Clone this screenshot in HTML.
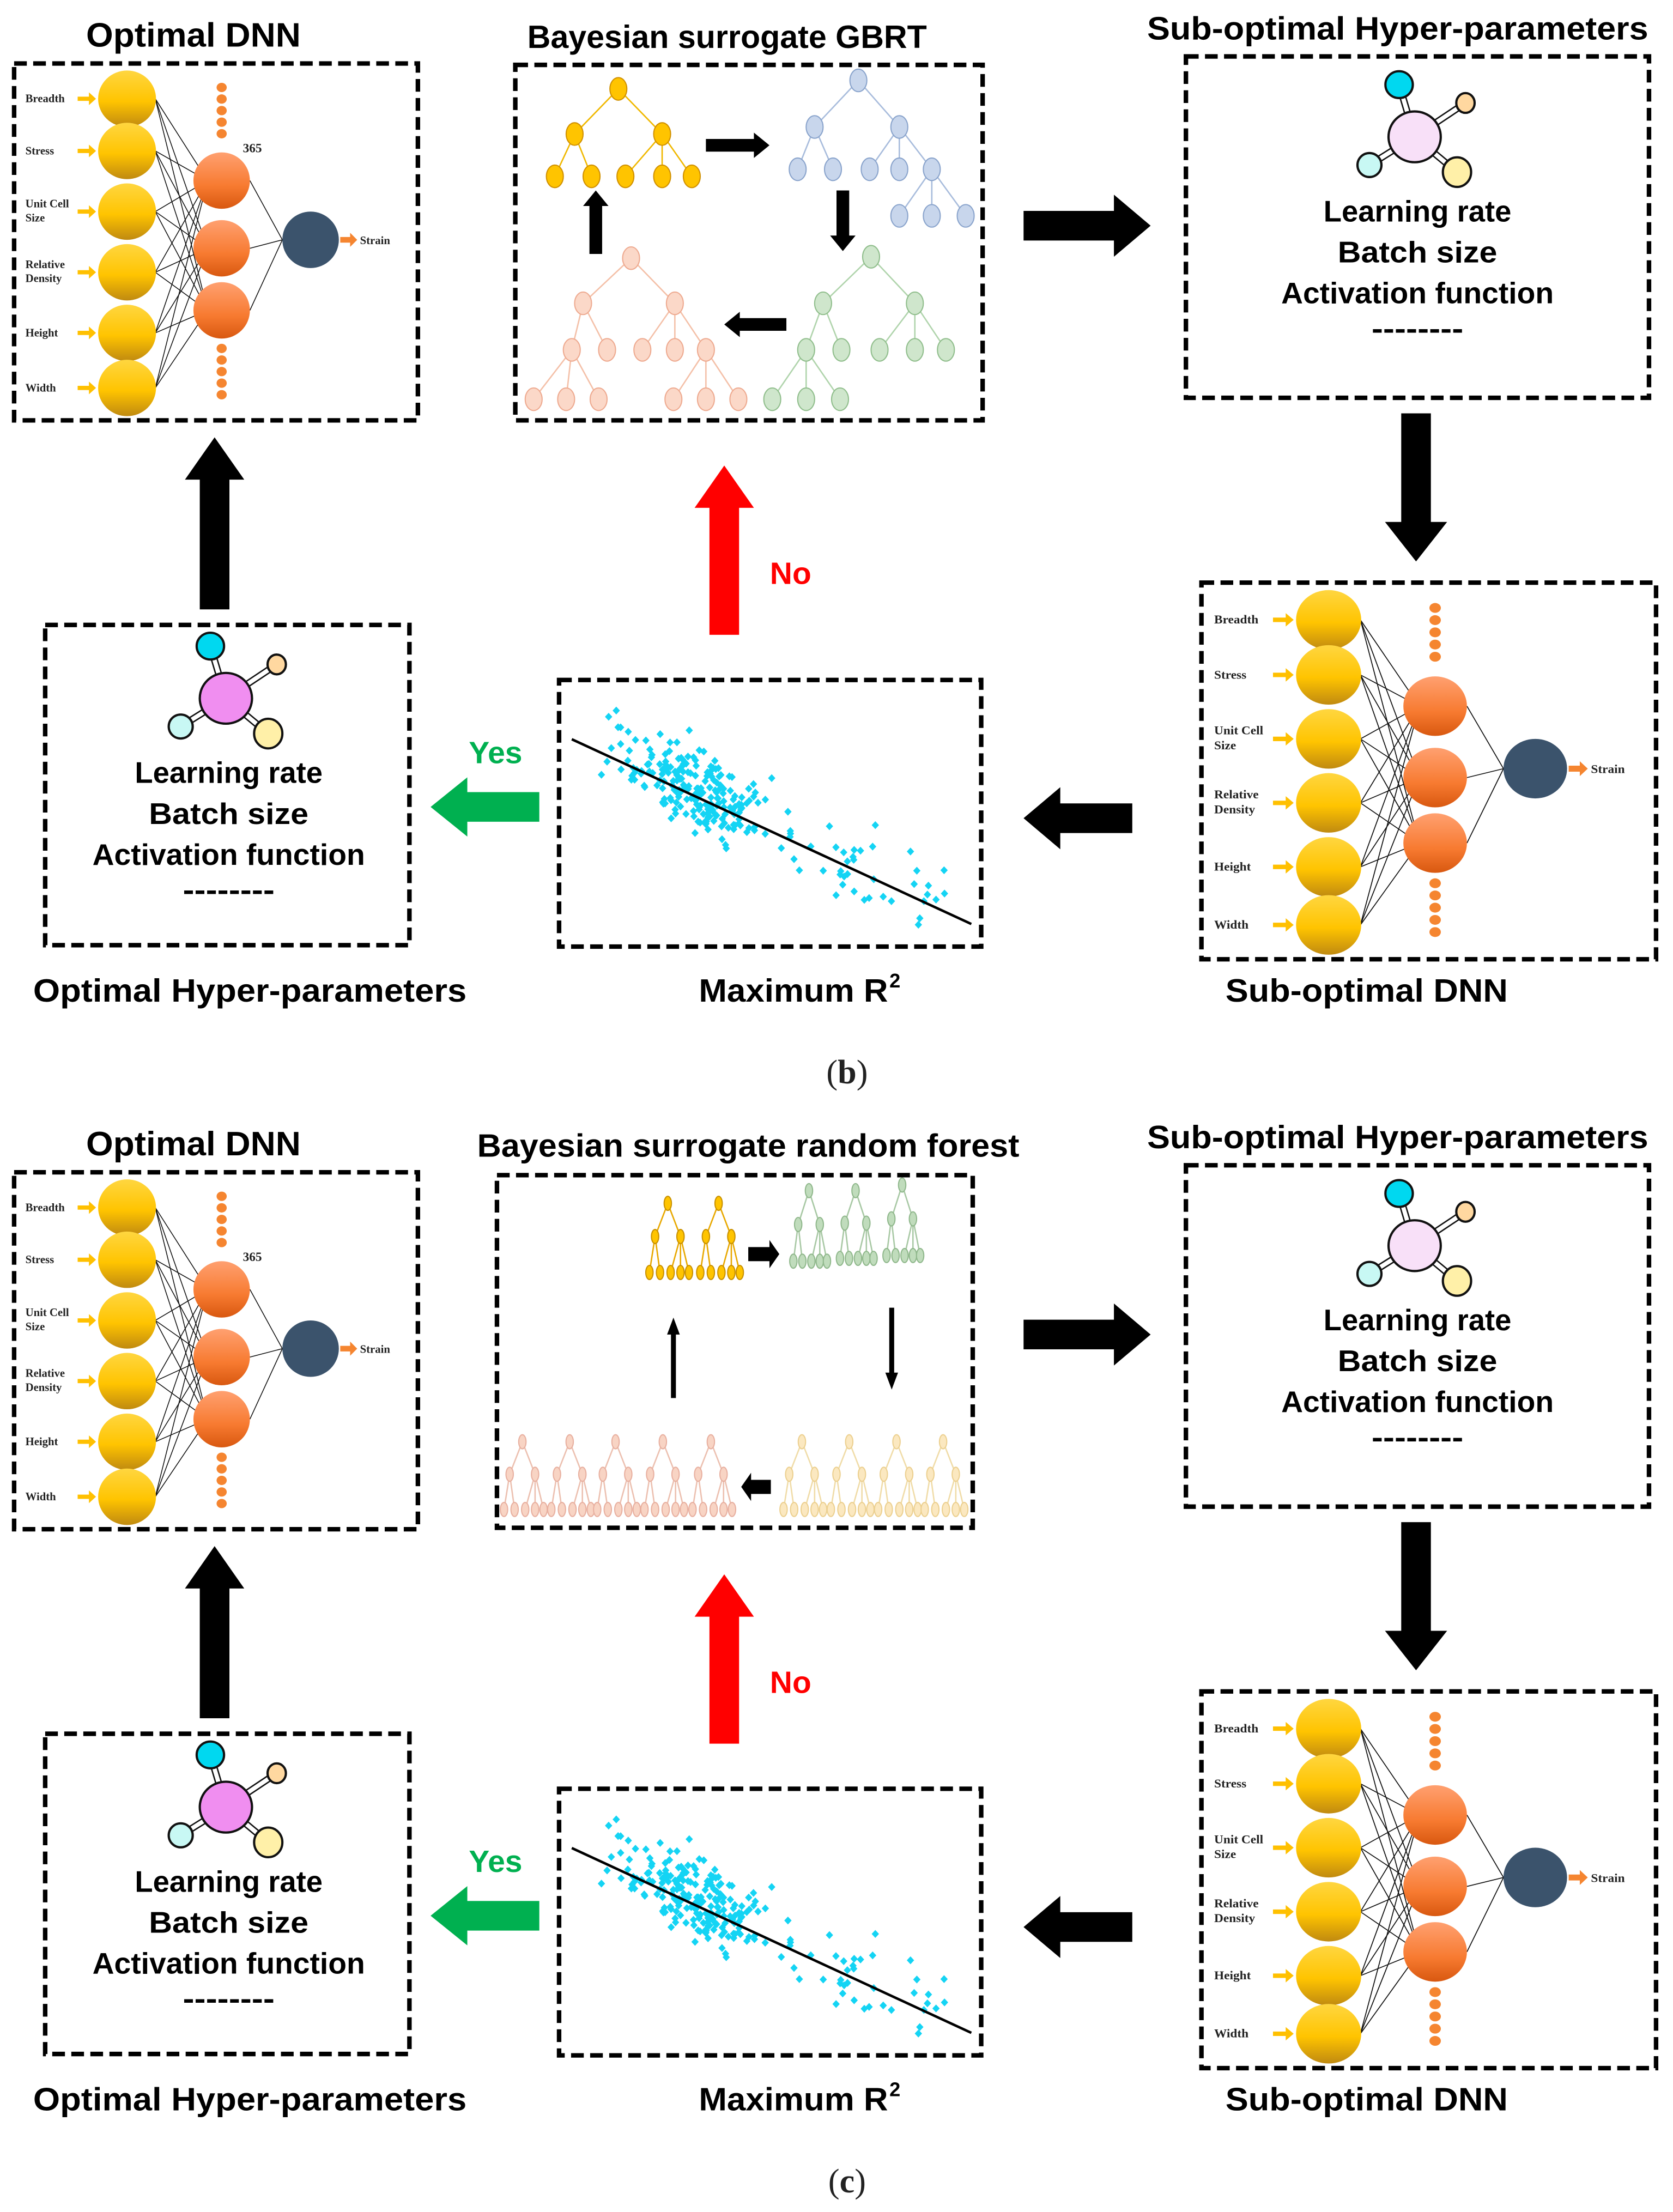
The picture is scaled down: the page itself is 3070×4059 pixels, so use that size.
<!DOCTYPE html>
<html><head><meta charset="utf-8"><style>
html,body{margin:0;padding:0;background:#fff;}
svg{display:block;}
.t{font-family:"Liberation Sans",sans-serif;font-weight:bold;fill:#000;}
.s{font-family:"Liberation Serif",serif;font-weight:bold;fill:#222;}
</style></head><body>
<svg id="g" xmlns="http://www.w3.org/2000/svg" width="3070" height="4059" viewBox="0 0 1185 1568" preserveAspectRatio="none">
<defs>
<linearGradient id="gy" x1="0" y1="0" x2="0" y2="1"><stop offset="0" stop-color="#ffd640"/><stop offset="0.55" stop-color="#ffc400"/><stop offset="1" stop-color="#c08a10"/></linearGradient>
<linearGradient id="go" x1="0" y1="0" x2="0" y2="1"><stop offset="0" stop-color="#ffa070"/><stop offset="0.6" stop-color="#f77a30"/><stop offset="1" stop-color="#d85810"/></linearGradient>
</defs>
<text class="t" x="137" y="33" font-size="24" text-anchor="middle" textLength="152" lengthAdjust="spacingAndGlyphs">Optimal DNN</text>
<text class="t" x="515" y="34" font-size="23" text-anchor="middle" textLength="283" lengthAdjust="spacingAndGlyphs">Bayesian surrogate GBRT</text>
<text class="t" x="990" y="28" font-size="23" text-anchor="middle" textLength="355" lengthAdjust="spacingAndGlyphs">Sub-optimal Hyper-parameters</text>
<text class="t" x="177" y="710" font-size="23" text-anchor="middle" textLength="307" lengthAdjust="spacingAndGlyphs">Optimal Hyper-parameters</text>
<text class="t" x="562" y="710" font-size="23" text-anchor="middle" textLength="134" lengthAdjust="spacingAndGlyphs">Maximum R</text>
<text class="t" x="630" y="700" font-size="14">2</text>
<text class="t" x="968" y="710" font-size="23" text-anchor="middle" textLength="200" lengthAdjust="spacingAndGlyphs">Sub-optimal DNN</text>
<text class="s" x="600" y="768" font-size="24" text-anchor="middle" style="font-weight:normal">(<tspan style="font-weight:bold">b</tspan>)</text>
<text class="t" x="137" y="819" font-size="24" text-anchor="middle" textLength="152" lengthAdjust="spacingAndGlyphs">Optimal DNN</text>
<text class="t" x="530" y="820" font-size="23" text-anchor="middle" textLength="384" lengthAdjust="spacingAndGlyphs">Bayesian surrogate random forest</text>
<text class="t" x="990" y="814" font-size="23" text-anchor="middle" textLength="355" lengthAdjust="spacingAndGlyphs">Sub-optimal Hyper-parameters</text>
<text class="t" x="177" y="1496" font-size="23" text-anchor="middle" textLength="307" lengthAdjust="spacingAndGlyphs">Optimal Hyper-parameters</text>
<text class="t" x="562" y="1496" font-size="23" text-anchor="middle" textLength="134" lengthAdjust="spacingAndGlyphs">Maximum R</text>
<text class="t" x="630" y="1486" font-size="14">2</text>
<text class="t" x="968" y="1496" font-size="23" text-anchor="middle" textLength="200" lengthAdjust="spacingAndGlyphs">Sub-optimal DNN</text>
<text class="s" x="600" y="1554" font-size="24" text-anchor="middle" style="font-weight:normal">(<tspan style="font-weight:bold">c</tspan>)</text>
</svg>
<script>
var S=document.getElementById('g'),NS='http://www.w3.org/2000/svg';
function el(t,a,p,txt){var e=document.createElementNS(NS,t);for(var k in a)e.setAttribute(k,a[k]);if(txt!==undefined)e.textContent=txt;(p||S).appendChild(e);return e;}
function box(x1,y1,x2,y2){el('rect',{x:x1,y:y1,width:x2-x1,height:y2-y1,fill:'none',stroke:'#000','stroke-width':3.2,'stroke-dasharray':'9 4.5'});}
function arrow(x1,y1,x2,y2,col,th,hw,hl){
 var dx=x2-x1,dy=y2-y1,L=Math.hypot(dx,dy),ux=dx/L,uy=dy/L,px=-uy,py=ux,t=th/2,h=hw/2;
 var bx=x2-ux*hl,by=y2-uy*hl;
 var pts=[[x1+px*t,y1+py*t],[bx+px*t,by+py*t],[bx+px*h,by+py*h],[x2,y2],[bx-px*h,by-py*h],[bx-px*t,by-py*t],[x1-px*t,y1-py*t]];
 el('polygon',{points:pts.map(function(p){return p[0]+','+p[1]}).join(' '),fill:col});
}
function dnn(ox,oy,sx,sy){
 var g=el('g',{transform:'translate('+ox+','+oy+') scale('+sx+','+sy+')'});
 var iy=[25,62,105,148,191,230],hy=[83,131,175];
 var labs=[['Breadth'],['Stress'],['Unit Cell','Size'],['Relative','Density'],['Height'],['Width']];
 for(var i=0;i<6;i++)for(var j=0;j<3;j++)el('line',{x1:100,y1:iy[i],x2:137,y2:hy[j],stroke:'#111','stroke-width':0.6},g);
 for(var j=0;j<3;j++)el('line',{x1:167,y1:hy[j],x2:190,y2:125,stroke:'#111','stroke-width':0.6},g);
 for(var i=0;i<6;i++){
  el('ellipse',{cx:80,cy:iy[i],rx:20.5,ry:20,fill:'url(#gy)'},g);
  el('path',{d:'M45,'+(iy[i]-1.5)+'h8v-3l5,4.5l-5,4.5v-3h-8z',fill:'#ffc000'},g);
  var L=labs[i];
  if(L.length==1)el('text',{x:8,y:iy[i]+2.5,'font-size':8,'class':'s'},g,L[0]);
  else{el('text',{x:8,y:iy[i]-3,'font-size':8,'class':'s'},g,L[0]);el('text',{x:8,y:iy[i]+7,'font-size':8,'class':'s'},g,L[1]);}
 }
 for(var j=0;j<3;j++)el('ellipse',{cx:147,cy:hy[j],rx:20,ry:20,fill:'url(#go)'},g);
 for(var k=0;k<5;k++){el('ellipse',{cx:147,cy:17+k*8.2,rx:3.6,ry:3.3,fill:'#f58530'},g);el('ellipse',{cx:147,cy:202+k*8.2,rx:3.6,ry:3.3,fill:'#f58530'},g);}
 el('ellipse',{cx:210,cy:125,rx:20,ry:20,fill:'#3b536c'},g);
 el('path',{d:'M231,123h7v-3l5,5l-5,5v-3h-7z',fill:'#f58530'},g);
 el('text',{x:245,y:128,'font-size':8,'class':'s'},g,'Strain');
 return g;
}
function hyper(cx,cy,big){
 var sat=[[-11,-37,9.7,9.5,'#00d8f0'],[36,-24,6.5,7,'#ffd8a0'],[-32,20,8.5,8.5,'#c8f8f4'],[30,25,10,10.5,'#fff0a8']];
 sat.forEach(function(s){var x=cx+s[0],y=cy+s[1];var dx=s[0],dy=s[1],L=Math.hypot(dx,dy),px=-dy/L*2,py=dx/L*2;
  el('line',{x1:cx+px,y1:cy+py,x2:x+px,y2:y+py,stroke:'#111','stroke-width':1});
  el('line',{x1:cx-px,y1:cy-py,x2:x-px,y2:y-py,stroke:'#111','stroke-width':1});});
 el('ellipse',{cx:cx,cy:cy,rx:18.5,ry:18,fill:big,stroke:'#111','stroke-width':1.6});
 sat.forEach(function(s){el('ellipse',{cx:cx+s[0],cy:cy+s[1],rx:s[2],ry:s[3],fill:s[4],stroke:'#111','stroke-width':1.6});});
 var tx=cx+2,y0=cy+53;
 el('text',{x:tx,y:y0+7,'font-size':21,'text-anchor':'middle','class':'t',textLength:133,lengthAdjust:'spacingAndGlyphs'},S,'Learning rate');
 el('text',{x:tx,y:y0+36,'font-size':21,'text-anchor':'middle','class':'t',textLength:113,lengthAdjust:'spacingAndGlyphs'},S,'Batch size');
 el('text',{x:tx,y:y0+65,'font-size':21,'text-anchor':'middle','class':'t',textLength:193,lengthAdjust:'spacingAndGlyphs'},S,'Activation function');
 el('text',{x:tx,y:y0+90,'font-size':21,'text-anchor':'middle','class':'t',textLength:65,lengthAdjust:'spacingAndGlyphs'},S,'--------');
}
var seed=7;function rnd(){seed=(seed*16807)%2147483647;return (seed-1)/2147483646;}
function gauss(){return (rnd()+rnd()+rnd()+rnd()-2)*0.87;}
function scatter(oy){
 seed=7;
 var pts='';
 for(var i=0;i<260;i++){
  var x;
  if(rnd()<0.75)x=495+gauss()*38;else x=420+rnd()*260;
  if(x<408)x=408+rnd()*10;if(x>685)x=685-rnd()*10;
  var ly=524+(x-405)*(131/283);
  var y=ly+gauss()*26-6;
  if(y<490)y=490+rnd()*8;if(y>666)y=666-rnd()*5;
  pts+='M'+x.toFixed(1)+','+(y+oy-2.8).toFixed(1)+'l2.6,2.8l-2.6,2.8l-2.6,-2.8z';
 }
 el('path',{d:pts,fill:'#14d4f4'});
 el('line',{x1:405,y1:524+oy,x2:688,y2:655+oy,stroke:'#000','stroke-width':1.8});
}
function node(x,y,c,s,rx,ry){el('ellipse',{cx:x,cy:y,rx:rx||6,ry:ry||8,fill:c,stroke:s,'stroke-width':0.8});}
function edge(x1,y1,x2,y2,c){el('line',{x1:x1,y1:y1,x2:x2,y2:y2,stroke:c,'stroke-width':1});}
function tree(n,e,c,s,lc){e.forEach(function(p){edge(n[p[0]][0],n[p[0]][1],n[p[1]][0],n[p[1]][1],lc);});n.forEach(function(p){node(p[0],p[1],c,s);});}
function gbrt(){
 tree([[438,63],[407,95],[469,95],[393,125],[419,125],[443,125],[469,125],[490,125]],[[0,1],[0,2],[1,3],[1,4],[2,5],[2,6],[2,7]],'#ffc400','#d09000','#f0b800');
 tree([[608,57],[577,90],[637,90],[565,120],[590,120],[616,120],[637,120],[660,120],[637,153],[660,153],[684,153]],[[0,1],[0,2],[1,3],[1,4],[2,5],[2,6],[2,7],[7,8],[7,9],[7,10]],'#c8d6ec','#8aa4cc','#a8bcdc');
 tree([[617,182],[583,215],[648,215],[571,248],[596,248],[623,248],[648,248],[670,248],[547,283],[571,283],[595,283]],[[0,1],[0,2],[1,3],[1,4],[2,5],[2,6],[2,7],[3,8],[3,9],[3,10]],'#cfe6cc','#90be8c','#b0d4ac');
 tree([[447,183],[413,215],[478,215],[405,248],[430,248],[455,248],[478,248],[500,248],[378,283],[401,283],[424,283],[477,283],[500,283],[523,283]],[[0,1],[0,2],[1,3],[1,4],[2,5],[2,6],[2,7],[3,8],[3,9],[3,10],[7,11],[7,12],[7,13]],'#fbd8c8','#eeaa90','#f4c0a8');
 arrow(500,103,545,103,'#000',9,18,11);
 arrow(597,135,597,178,'#000',9,18,11);
 arrow(557,230,513,230,'#000',9,18,11);
 arrow(422,180,422,135,'#000',9,18,11);
}
function rtree(x,y,h,c,s,lc,w){
 w=w||1;var cy=y+h*0.48,ly=y+h,cl=x-9*w,cr=x+9*w;
 var lv=[[cl,-13],[cl,-5.5],[cr,2],[cr,9],[cr,15]];
 edge(x,y,cl,cy,lc);edge(x,y,cr,cy,lc);
 lv.forEach(function(l){edge(l[0],cy,x+l[1]*w,ly,lc);});
 node(x,y,c,s,2.6,5);node(cl,cy,c,s,2.6,5);node(cr,cy,c,s,2.6,5);
 lv.forEach(function(l){node(x+l[1]*w,ly,c,s,2.6,5);});
}
function rforest(){
 rtree(473,853,49,'#ffc400','#c89000','#e8a800');rtree(509,853,49,'#ffc400','#c89000','#e8a800');
 rtree(573,844,50,'#c0dcbc','#90b88c','#a8c8a4',0.85);rtree(606,844,48,'#c0dcbc','#90b88c','#a8c8a4',0.85);rtree(639,840,50,'#c0dcbc','#90b88c','#a8c8a4',0.85);
 [370,403.5,436,469.5,503.5].forEach(function(x){rtree(x,1022,48,'#f8d4c4','#e8b0a0','#ecc0b0');});
 [568,601.5,635,668].forEach(function(x){rtree(x,1022,48,'#fbe8c0','#ecd090','#f0dca8');});
 arrow(530,889,552,889,'#000',10,20,7);
 arrow(477,991,477,934,'#000',3.5,9,12);
 arrow(631.6,927,631.6,985,'#000',3.5,9,12);
 arrow(546,1054,525,1054,'#000',10,20,7);
}
function part(o){
 box(10,45+o,296,298+o);dnn(10,45+o,1,1);
 box(840,40+o,1168,282+o);hyper(1002,97+o,'#f8e0f8');
 box(851,413+o,1173,680+o);dnn(851,413+o,1.126,1.055);
 box(396,482+o,695,671+o);scatter(o);
 box(32,443+o,290,670+o);hyper(160,495+o,'#f08ef0');
 arrow(725,160+o,815,160+o,'#000',21,44,26);
 arrow(1003,293+o,1003,398+o,'#000',21,44,28);
 arrow(802,580+o,725,580+o,'#000',21,44,26);
 arrow(513,450+o,513,330+o,'#ff0000',21,42,30);
 arrow(382,572+o,305,572+o,'#00b050',21,42,26);
 arrow(152,432+o,152,310+o,'#000',21,42,30);
 el('text',{x:560,y:414+o,'font-size':22,'text-anchor':'middle','class':'t',style:'fill:#ff0000'},S,'No');
 el('text',{x:351,y:541+o,'font-size':22,'text-anchor':'middle','class':'t',style:'fill:#00b050'},S,'Yes');
}
part(0);part(786);
box(365,46,696,298);gbrt();
box(352,833,689,1083);rforest();
el('text',{x:172,y:108,'font-size':9,'class':'s'},S,'365');
el('text',{x:172,y:894,'font-size':9,'class':'s'},S,'365');
</script>
</body></html>
